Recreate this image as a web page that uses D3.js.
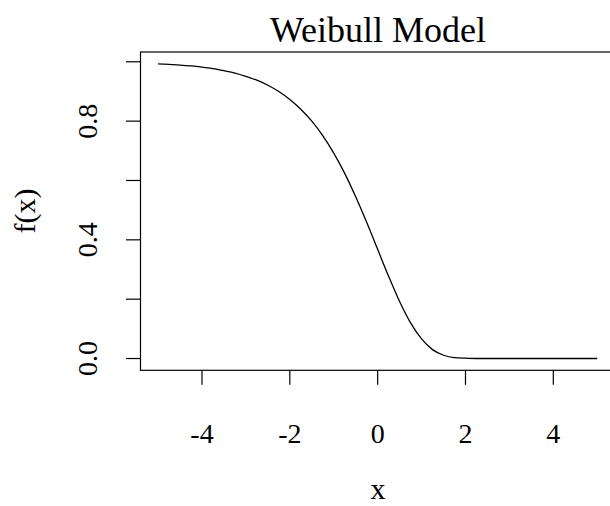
<!DOCTYPE html>
<html>
<head>
<meta charset="utf-8">
<script src="https://cdn.jsdelivr.net/npm/d3@7"></script>
<style>
  html, body { margin: 0; padding: 0; background: #fff; }
  svg { display: block; }
  text { font-family: "Liberation Serif", "Times New Roman", serif; fill: #000; }
</style>
</head>
<body>
<svg id="chart" width="610" height="506"></svg>
<script>
// Curve samples
const xValues = [-5, -4.75, -4.5, -4.25, -4, -3.75, -3.5, -3.25, -3, -2.75, -2.5, -2.25,
  -2, -1.75, -1.5, -1.25, -1, -0.75, -0.5, -0.25, 0, 0.25, 0.5, 0.75, 1, 1.25, 1.5,
  1.75, 2, 2.25, 2.5, 2.75, 3, 3.25, 3.5, 3.75, 4, 4.25, 4.5, 4.75, 5];
const yValues = [0.993, 0.991, 0.989, 0.986, 0.982, 0.977, 0.970, 0.962, 0.951, 0.938,
  0.921, 0.900, 0.873, 0.840, 0.800, 0.751, 0.692, 0.624, 0.545, 0.459, 0.368, 0.277,
  0.192, 0.120, 0.066, 0.030, 0.011, 0.003, 0.001, 0, 0, 0, 0, 0, 0, 0, 0, 0, 0, 0, 0];

// Axis ticks and labels
const xTicks = [-4, -2, 0, 2, 4];
const yTicks = [0, 0.2, 0.4, 0.6, 0.8, 1.0];
const yLabelled = [0, 0.4, 0.8];

const title = "Weibull Model";
const xTitle = "x";
const yTitle = "f(x)";

const svg = d3.select("#chart");

const x = d3.scaleLinear().domain([-5.4, 5.4]).range([140.5, 614.8]);
const y = d3.scaleLinear().domain([-0.0397, 1.033]).range([370.3, 52]);

// plot box
svg.append("rect")
  .attr("x", x(-5.4)).attr("y", y(1.033))
  .attr("width", x(5.4) - x(-5.4)).attr("height", y(-0.0397) - y(1.033))
  .attr("fill", "none").attr("stroke", "#000").attr("stroke-width", 1.2);

// x axis
const xAxis = svg.append("g");
xAxis.selectAll("line").data(xTicks).join("line")
  .attr("x1", d => x(d)).attr("x2", d => x(d))
  .attr("y1", y(-0.0397)).attr("y2", y(-0.0397) + 14.5)
  .attr("stroke", "#000").attr("stroke-width", 1.2);
xAxis.selectAll("text").data(xTicks).join("text")
  .attr("x", d => x(d)).attr("y", 443)
  .attr("text-anchor", "middle").attr("font-size", 28)
  .text(d => d3.format("d")(d).replace("−", "-"));

// y axis
const yAxis = svg.append("g");
yAxis.selectAll("line").data(yTicks).join("line")
  .attr("x1", x(-5.4) - 14.5).attr("x2", x(-5.4))
  .attr("y1", d => y(d)).attr("y2", d => y(d))
  .attr("stroke", "#000").attr("stroke-width", 1.2);
yAxis.selectAll("text").data(yLabelled).join("text")
  .attr("transform", d => `translate(97,${y(d)}) rotate(-90)`)
  .attr("text-anchor", "middle").attr("font-size", 28)
  .text(d => d3.format(".1f")(d));

// curve
const pts = xValues.map((v, i) => [v, yValues[i]]);
svg.append("path")
  .datum(pts)
  .attr("fill", "none").attr("stroke", "#000").attr("stroke-width", 1.3)
  .attr("d", d3.line().x(d => x(d[0])).y(d => y(d[1])).curve(d3.curveMonotoneX));

// titles
svg.append("text")
  .attr("x", 378).attr("y", 42)
  .attr("text-anchor", "middle").attr("font-size", 36)
  .text(title);
svg.append("text")
  .attr("x", 378).attr("y", 499)
  .attr("text-anchor", "middle").attr("font-size", 30)
  .text(xTitle);
svg.append("text")
  .attr("transform", `translate(35,211) rotate(-90)`)
  .attr("text-anchor", "middle").attr("font-size", 30)
  .text(yTitle);
</script>
</body>
</html>
